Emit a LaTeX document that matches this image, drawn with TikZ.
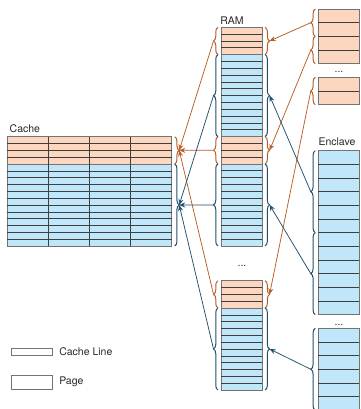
\documentclass[tikz,border=0pt]{standalone}
\usepackage{fontspec}
\setmainfont{TeX Gyre Heros}
\usepackage{tikz}
\usetikzlibrary{calc,positioning,decorations.pathreplacing,arrows.meta}

\definecolor{peach}{RGB}{252,214,190}
\definecolor{sky}{RGB}{192,230,250}
\definecolor{oline}{RGB}{184,94,36}
\definecolor{bline}{RGB}{32,80,110}
\definecolor{framegray}{RGB}{115,115,115}
\definecolor{rowgray}{RGB}{62,62,62}
\definecolor{textgray}{RGB}{40,40,40}

\tikzstyle{block}=[draw=framegray, line width=0.7pt, inner sep=0pt, outer sep=0pt,
  minimum width=41.1pt]
\tikzstyle{hot}=[block, fill=peach, minimum height=27.32pt]
\tikzstyle{cold}=[block, fill=sky, minimum height=81.96pt]
\tikzstyle{rowline}=[rowgray, line width=0.6pt]
\tikzstyle{obrace}=[decorate, decoration={brace, amplitude=4.5pt}, oline, line width=1pt]
\tikzstyle{bbrace}=[decorate, decoration={brace, amplitude=4.5pt}, bline, line width=1pt]
\tikzstyle{oarrow}=[oline, line width=0.75pt, -{Stealth[length=6pt,width=5pt]}]
\tikzstyle{barrow}=[bline, line width=0.75pt, -{Stealth[length=6pt,width=5pt]}]
\tikzstyle{txt}=[text=textgray, inner sep=0pt, font=\fontsize{10.5}{12}\selectfont]

% split a block into #2 equal rows
\newcommand{\cutrows}[2]{%
  \pgfmathtruncatemacro{\nlast}{#2-1}%
  \foreach \k in {1,...,\nlast}
    \draw[rowline] ($(#1.north west)!\k/#2!(#1.south west)$)
      -- ($(#1.north east)!\k/#2!(#1.south east)$);
}

\begin{document}
\begin{tikzpicture}[x=1pt, y=-1pt]
  \useasboundingbox (0,0) rectangle (360,409);
  % Cache
  \node[hot, minimum width=164.4pt, anchor=north west] (cachehot) at (7.3,136.7) {};
  \node[cold, minimum width=164.4pt, below=0pt of cachehot] (cachecold) {};
  \cutrows{cachehot}{4}
  \cutrows{cachecold}{12}
  \foreach \c in {1,2,3}
    \draw[rowline] ($(cachehot.north west)!\c/4!(cachehot.north east)$)
      -- ($(cachecold.south west)!\c/4!(cachecold.south east)$);
  \node[txt, anchor=west] (cachelbl) at (9.5,129) {Cache};
  % RAM
  \node[hot, anchor=north west] (ram1h) at (221,27.3) {};
  \node[cold, below=0pt of ram1h] (ram1c) {};
  \node[hot, below=0pt of ram1c] (ram2h) {};
  \node[cold, below=0pt of ram2h] (ram2c) {};
  \node[hot, anchor=north west] (ram3h) at (221,280.7) {};
  \node[cold, below=0pt of ram3h] (ram3c) {};
  \foreach \p in {ram1h,ram2h,ram3h} {\cutrows{\p}{4}}
  \foreach \p in {ram1c,ram2c,ram3c} {\cutrows{\p}{12}}
  \node[txt] (ramlbl) at (232,20.5) {RAM};
  \node[txt] (ramdots) at (242,266) {...};
  % Enclave
  \node[block, fill=peach, minimum height=54.64pt, anchor=north west] (encA) at (318.3,9) {};
  \node[block, fill=peach, minimum height=27.32pt, anchor=north west] (encB) at (318.3,77.3) {};
  \node[block, fill=sky, minimum height=163.92pt, anchor=north west] (encC) at (318.3,150.7) {};
  \node[block, fill=sky, minimum height=81.96pt, anchor=north west] (encD) at (318.3,328.3) {};
  \cutrows{encA}{4}
  \cutrows{encB}{2}
  \cutrows{encC}{12}
  \cutrows{encD}{6}
  \node[txt] (enclbl) at (337,141.7) {Enclave};
  \node[txt] (encdots1) at (339,72) {...};
  \node[txt] (encdots2) at (339,324.5) {...};
  % braces
  \draw[obrace] ($(cachehot.north east)+(3pt,0pt)$) -- ($(cachehot.south east)+(3pt,0pt)$);
  \draw[bbrace] ($(cachecold.north east)+(3pt,0pt)$) -- ($(cachecold.south east)+(3pt,0pt)$);
  \coordinate (c-hot) at ($(cachehot.east)+(7.5pt,0pt)$);
  \coordinate (c-cold) at ($(cachecold.east)+(7.5pt,0pt)$);
  \foreach \p in {ram1h,ram2h,ram3h} {
    \draw[obrace] ($(\p.south west)+(-3pt,0pt)$) -- ($(\p.north west)+(-3pt,0pt)$);
    \draw[obrace] ($(\p.north east)+(3pt,0pt)$) -- ($(\p.south east)+(3pt,0pt)$);
  }
  \foreach \p in {ram1c,ram2c,ram3c} {
    \draw[bbrace] ($(\p.south west)+(-3pt,0pt)$) -- ($(\p.north west)+(-3pt,0pt)$);
    \draw[bbrace] ($(\p.north east)+(3pt,0pt)$) -- ($(\p.south east)+(3pt,0pt)$);
  }
  \foreach \p in {ram1h,ram2h,ram3h,ram1c,ram2c,ram3c} {
    \coordinate (\p-l) at ($(\p.west)+(-7.5pt,0pt)$);
    \coordinate (\p-r) at ($(\p.east)+(7.5pt,0pt)$);
  }
  \draw[obrace] ($(encA.west)+(-3pt,0pt)$) -- ($(encA.north west)+(-3pt,0pt)$);
  \draw[obrace] ($(encA.south west)+(-3pt,0pt)$) -- ($(encA.west)+(-3pt,0pt)$);
  \draw[obrace] ($(encB.south west)+(-3pt,0pt)$) -- ($(encB.north west)+(-3pt,0pt)$);
  \draw[bbrace] ($(encC.west)+(-3pt,0pt)$) -- ($(encC.north west)+(-3pt,0pt)$);
  \draw[bbrace] ($(encC.south west)+(-3pt,0pt)$) -- ($(encC.west)+(-3pt,0pt)$);
  \draw[bbrace] ($(encD.south west)+(-3pt,0pt)$) -- ($(encD.north west)+(-3pt,0pt)$);
  \coordinate (eA1) at ($(encA.north west)!0.25!(encA.south west)+(-7.5pt,0pt)$);
  \coordinate (eA2) at ($(encA.north west)!0.75!(encA.south west)+(-7.5pt,0pt)$);
  \coordinate (eB) at ($(encB.west)+(-7.5pt,0pt)$);
  \coordinate (eC1) at ($(encC.north west)!0.25!(encC.south west)+(-7.5pt,0pt)$);
  \coordinate (eC2) at ($(encC.north west)!0.75!(encC.south west)+(-7.5pt,0pt)$);
  \coordinate (eD) at ($(encD.west)+(-7.5pt,0pt)$);
  % enclave pages into RAM
  \draw[oarrow] (eA1) -- (ram1h-r);
  \draw[oarrow] (eA2) -- (ram2h-r);
  \draw[oarrow] (eB) -- (ram3h-r);
  \draw[barrow] (eC1) -- (ram1c-r);
  \draw[barrow] (eC2) -- (ram2c-r);
  \draw[barrow] (eD) -- (ram3c-r);
  % RAM into cache
  \foreach \p in {ram1h,ram2h,ram3h} \draw[oarrow] (\p-l) -- (c-hot);
  \foreach \p in {ram1c,ram2c,ram3c} \draw[barrow] (\p-l) -- (c-cold);
  % legend
  \node[block, fill=white, minimum height=7.2pt, anchor=north west] (legline) at (11,348.3) {};
  \node[block, fill=white, minimum height=14.3pt, anchor=north west] (legpage) at (11,375) {};
  \node[txt, right=7pt of legline] (leglinelbl) {Cache Line};
  \node[txt, right=7pt of legpage] (legpagelbl) {Page};
\end{tikzpicture}
\end{document}
